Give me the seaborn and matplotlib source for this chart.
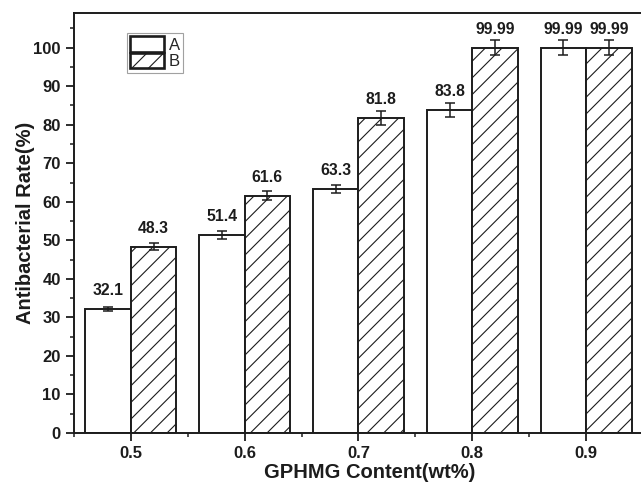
import numpy as np
import pandas as pd
import matplotlib
matplotlib.use("Agg")
import matplotlib.pyplot as plt
from matplotlib.patches import Patch, Rectangle
from matplotlib.ticker import MultipleLocator
import seaborn as sns

# GPHMG content (wt%) and antibacterial rate for the two samples
contents = [0.5, 0.6, 0.7, 0.8, 0.9]
samples = ["A", "B"]
rate_a = [32.1, 51.4, 63.3, 83.8, 99.99]
rate_b = [48.3, 61.6, 81.8, 99.99, 99.99]
err_a = [0.5, 1.0, 1.1, 1.75, 2.0]
err_b = [0.9, 1.2, 1.75, 2.0, 2.0]
y_ticks = [0, 10, 20, 30, 40, 50, 60, 70, 80, 90, 100]
x_tick_labels = ["0.5", "0.6", "0.7", "0.8", "0.9"]

df = pd.DataFrame({
    "content": contents * 2,
    "sample": ["A"] * len(contents) + ["B"] * len(contents),
    "rate": rate_a + rate_b,
})

sns.set_theme(style="ticks")
plt.rcParams["font.family"] = ["Liberation Sans", "DejaVu Sans"]
plt.rcParams["hatch.linewidth"] = 0.8
plt.rcParams["axes.linewidth"] = 1.4

ink = "#1c1c1c"

fig = plt.figure(figsize=(6.41, 4.82), dpi=100)
ax = fig.add_axes([0.1154, 0.1017, 0.8877, 0.8714])

sns.barplot(
    data=df, x="content", y="rate", hue="sample", hue_order=samples,
    native_scale=True, width=0.8, gap=0, palette=["white", "white"],
    edgecolor=ink, linewidth=1.4, errorbar=None, legend=False, ax=ax,
)

# split the drawn bars into the A (left) and B (right) bar of each group
bars = sorted([p for p in ax.patches if isinstance(p, Rectangle)],
              key=lambda p: p.get_x())
groups = {"A": [], "B": []}
for bar in bars:
    xc = bar.get_x() + bar.get_width() / 2
    nearest = min(contents, key=lambda c: abs(c - xc))
    key = "A" if xc < nearest else "B"
    groups[key].append(bar)

errs = {"A": err_a, "B": err_b}
vals = {"A": rate_a, "B": rate_b}
for key in samples:
    centers = []
    for bar in groups[key]:
        bar.set_facecolor("white")
        bar.set_edgecolor(ink)
        if key == "B":
            bar.set_hatch("//")
        centers.append(bar.get_x() + bar.get_width() / 2)
    ax.errorbar(centers, vals[key], yerr=errs[key], fmt="none", ecolor=ink,
                elinewidth=1.1, capsize=3.8, capthick=1.1, zorder=5)
    for xc, v in zip(centers, vals[key]):
        ax.text(xc, v + 3.6, f"{v:g}", ha="center", va="baseline",
                fontsize=11.3, fontweight="bold", color=ink)

ax.set_xlim(0.45, 0.95)
ax.set_ylim(0, 109)
ax.set_xticks(contents)
ax.set_xticklabels(x_tick_labels)
ax.xaxis.set_minor_locator(MultipleLocator(0.05))
ax.set_yticks(y_ticks)
ax.yaxis.set_minor_locator(MultipleLocator(5))

ax.tick_params(axis="both", which="major", direction="out", length=5.5,
               width=1.3, labelsize=12, color=ink, labelcolor=ink, pad=4)
ax.tick_params(axis="both", which="minor", direction="out", length=3,
               width=1.1, color=ink)
ax.tick_params(axis="x", which="both", top=False)
ax.tick_params(axis="y", which="both", right=False)
for lab in ax.get_xticklabels() + ax.get_yticklabels():
    lab.set_fontweight("bold")

for side in ["left", "bottom", "top"]:
    ax.spines[side].set_color(ink)
    ax.spines[side].set_linewidth(1.4)
ax.spines["right"].set_visible(False)

ax.set_xlabel("GPHMG Content(wt%)", fontsize=14.5, fontweight="bold",
              color=ink, va="center")
ax.set_ylabel("Antibacterial Rate(%)", fontsize=14.5, fontweight="bold",
              color=ink, va="center")
ax.xaxis.set_label_coords(0.52, -0.093)
ax.yaxis.set_label_coords(-0.0844, 0.5)

handles = [
    Patch(facecolor="white", edgecolor=ink, linewidth=1.9, label="A"),
    Patch(facecolor="white", edgecolor=ink, linewidth=1.9, hatch="//", label="B"),
]
leg = ax.legend(handles=handles, loc="upper left", bbox_to_anchor=(0.093, 0.952),
                borderaxespad=0, frameon=True, fancybox=False, fontsize=12,
                handlelength=2.05, handleheight=1.05, labelspacing=0.0,
                handletextpad=0.25, borderpad=0.2)
leg.get_frame().set_edgecolor("#8a8a8a")
leg.get_frame().set_linewidth(0.8)

fig.savefig("out.png", dpi=100, facecolor="white")
